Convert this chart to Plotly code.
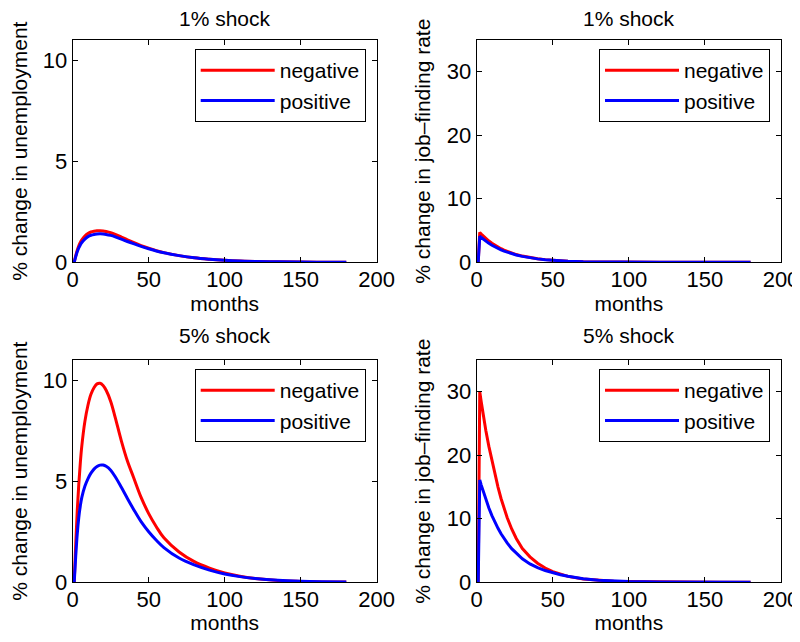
import plotly.graph_objects as go

# ---------------- data ----------------
months_u = [1, 2, 3, 4, 5, 6, 8, 10, 12, 14, 16, 18, 20, 22, 25, 28, 32, 36, 40, 45,
            50, 55, 60, 70, 80, 90, 100, 110, 120, 135, 150, 165, 180]

unemp_1_neg = [0, 0.33, 0.6, 0.82, 0.98, 1.11, 1.3, 1.42, 1.5, 1.54, 1.56, 1.56, 1.55,
               1.52, 1.46, 1.38, 1.25, 1.11, 0.98, 0.83, 0.7, 0.58, 0.48, 0.33, 0.22,
               0.15, 0.1, 0.065, 0.043, 0.022, 0.011, 0.006, 0.003]
unemp_1_pos = [0, 0.28, 0.52, 0.71, 0.86, 0.98, 1.15, 1.27, 1.34, 1.38, 1.4, 1.41, 1.4,
               1.38, 1.33, 1.26, 1.15, 1.03, 0.92, 0.79, 0.67, 0.56, 0.47, 0.33, 0.22,
               0.15, 0.1, 0.065, 0.043, 0.022, 0.011, 0.006, 0.003]
unemp_5_neg = [0, 1.9, 3.55, 4.85, 5.9, 6.75, 7.95, 8.75, 9.3, 9.63, 9.82, 9.85, 9.74,
               9.5, 8.95, 8.15, 7.0, 6.0, 5.2, 4.2, 3.4, 2.75, 2.2, 1.5, 1.02,
               0.7, 0.46, 0.3, 0.19, 0.09, 0.045, 0.02, 0.01]
unemp_5_pos = [0, 1.3, 2.4, 3.2, 3.78, 4.2, 4.75, 5.12, 5.4, 5.6, 5.73, 5.8, 5.8,
               5.74, 5.55, 5.22, 4.7, 4.15, 3.62, 3.0, 2.5, 2.08, 1.72, 1.2, 0.86,
               0.6, 0.41, 0.28, 0.19, 0.1, 0.05, 0.025, 0.012]

months_f = [1, 2, 3, 4, 5, 6, 8, 10, 12, 14, 16, 18, 20, 23, 26, 30, 35, 40, 45, 50,
            55, 60, 70, 80, 90, 100, 120, 140, 160, 180]

jf_1_neg = [0, 4.7, 4.45, 4.2, 3.97, 3.75, 3.35, 3.0, 2.68, 2.4, 2.14, 1.91, 1.71, 1.45,
            1.22, 0.98, 0.74, 0.56, 0.42, 0.32, 0.24, 0.18, 0.1, 0.06, 0.035, 0.02,
            0.007, 0.003, 0.001, 0.0005]
jf_1_pos = [0, 4.1, 3.9, 3.7, 3.5, 3.32, 2.98, 2.68, 2.41, 2.17, 1.95, 1.76, 1.58, 1.35,
            1.15, 0.93, 0.71, 0.54, 0.41, 0.31, 0.24, 0.18, 0.1, 0.06, 0.035, 0.02,
            0.007, 0.003, 0.001, 0.0005]
jf_5_neg = [0, 30, 28.4, 26.8, 25.3, 23.9, 21.4, 19.1, 16.9, 15.0, 13.2, 11.6, 10.2, 8.4,
            6.9, 5.3, 4.0, 3.0, 2.25, 1.68, 1.25, 0.93, 0.53, 0.31, 0.18, 0.11,
            0.04, 0.015, 0.006, 0.003]
jf_5_pos = [0, 16.1, 15.3, 14.5, 13.7, 13.0, 11.7, 10.5, 9.45, 8.5, 7.65, 6.9, 6.2, 5.3,
            4.55, 3.7, 2.9, 2.3, 1.85, 1.5, 1.2, 0.95, 0.55, 0.32, 0.19, 0.115,
            0.042, 0.016, 0.006, 0.003]

series_names = ["negative", "positive"]
panel_titles = ["1% shock", "1% shock", "5% shock", "5% shock"]
x_title = "months"
y_titles = ["% change in unemployment", "% change in job\u2013finding rate"]
x_ticks = [0, 50, 100, 150, 200]
y_ticks_u = [0, 5, 10]
y_ticks_f = [0, 10, 20, 30]

# ---------------- styling ----------------
FONT = "Liberation Sans, Arial, Helvetica, sans-serif"
FS = 21
FS_TICK = 22
RED = "#ff0000"
BLUE = "#0000ff"
OFF = 8                       # page body margin of the html page
W, H = 800 - OFF, 642 - 2 * OFF  # figure size so the page does not scroll

# pixel geometry of the four axes boxes (window pixels)
col_px = [(72.7, 376.7), (476.7, 781.0)]
row_px = [(40.0, 262.3), (360.0, 582.3)]
title_gap = [21, 25]   # distance of the panel title centre above each row

def px_x(p):
    return (p - OFF) / W

def px_y(p):
    return 1 - (p - OFF) / H

fig = go.Figure()

panels = [
    # (row, col, xvals, neg, pos, yrange, yticks, spline)
    (0, 0, months_u, unemp_1_neg, unemp_1_pos, [0, 11], y_ticks_u, True),
    (0, 1, months_f, jf_1_neg, jf_1_pos, [0, 35], y_ticks_f, False),
    (1, 0, months_u, unemp_5_neg, unemp_5_pos, [0, 11], y_ticks_u, True),
    (1, 1, months_f, jf_5_neg, jf_5_pos, [0, 35], y_ticks_f, False),
]

layout = dict(
    width=W, height=H,
    margin=dict(l=0, r=0, t=0, b=0, pad=0),
    paper_bgcolor="white", plot_bgcolor="white",
    font=dict(family=FONT, size=FS, color="black"),
    annotations=[],
)

for i, (r, c, xs, neg, pos, yr, yt, spl) in enumerate(panels):
    k = i + 1
    xa = "x" if k == 1 else f"x{k}"
    ya = "y" if k == 1 else f"y{k}"
    lg = "legend" if k == 1 else f"legend{k}"
    shape = "spline" if spl else "linear"
    fig.add_trace(go.Scatter(x=xs, y=neg, name=series_names[0], mode="lines",
                             line=dict(color=RED, width=3, shape=shape),
                             xaxis=xa, yaxis=ya, legend=lg))
    fig.add_trace(go.Scatter(x=xs, y=pos, name=series_names[1], mode="lines",
                             line=dict(color=BLUE, width=3, shape=shape),
                             xaxis=xa, yaxis=ya, legend=lg))

    xkey = "xaxis" if k == 1 else f"xaxis{k}"
    ykey = "yaxis" if k == 1 else f"yaxis{k}"
    common = dict(showline=True, linecolor="black", linewidth=1, mirror="ticks",
                  ticks="inside", ticklen=5, tickwidth=1, tickcolor="black",
                  showgrid=False, zeroline=False, automargin=False,
                  tickfont=dict(family=FONT, size=FS_TICK, color="black"))
    x0, x1 = col_px[c]
    y0, y1 = row_px[r]
    layout[xkey] = dict(domain=[px_x(x0), px_x(x1)], range=[0, 200], tickvals=x_ticks,
                        anchor=ya, ticklabelstandoff=-3,
                        title=dict(text=x_title, standoff=0,
                                   font=dict(family=FONT, size=FS, color="black")),
                        **common)
    layout[ykey] = dict(domain=[px_y(y1), px_y(y0)], range=yr, tickvals=yt,
                        anchor=xa,
                        title=dict(text=y_titles[c], standoff=10,
                                   font=dict(family=FONT, size=FS, color="black")),
                        **common)

    # panel title
    layout["annotations"].append(dict(
        text=panel_titles[i], xref="paper", yref="paper",
        x=px_x((x0 + x1) / 2), y=px_y(y0 - title_gap[r]),
        xanchor="center", yanchor="middle", showarrow=False,
        font=dict(family=FONT, size=FS, color="black")))

    # legend box
    layout[lg] = dict(
        x=px_x(x1 - 11), y=px_y(y0 + 9), xanchor="right", yanchor="top",
        bordercolor="black", borderwidth=1, bgcolor="white",
        font=dict(family=FONT, size=FS, color="black"),
        itemwidth=74, tracegroupgap=0,
    )

fig.update_layout(**layout)
fig.update_layout(showlegend=True)
fig.write_html("out.html")
